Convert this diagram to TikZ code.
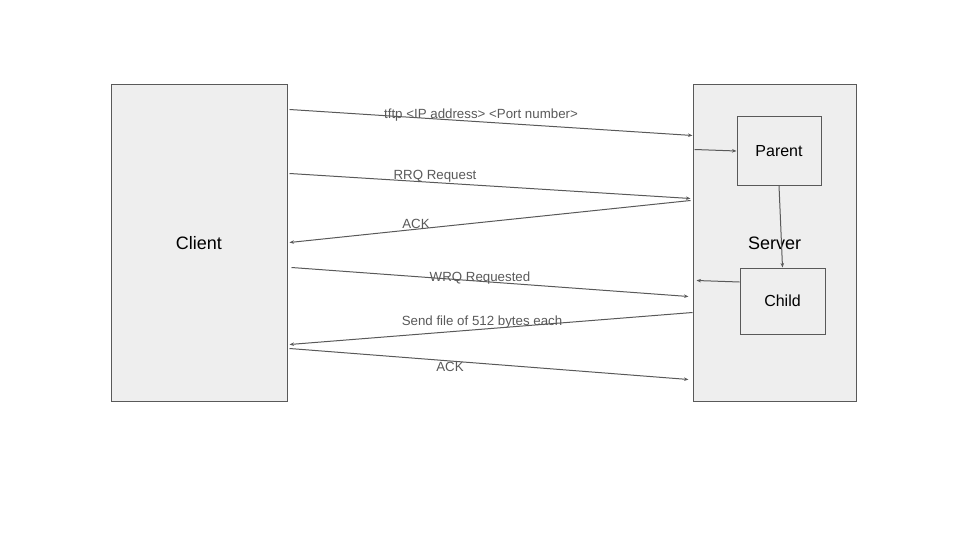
\documentclass[tikz,border=0pt]{standalone}
\usepackage{fontspec}
\setmainfont{Liberation Sans}
\usetikzlibrary{arrows.meta}
\definecolor{linegray}{HTML}{595959}
\definecolor{boxgray}{HTML}{EEEEEE}
\tikzset{
	box/.style={draw=linegray, fill=boxgray, line width=1pt, inner sep=0pt},
	msg/.style={draw=linegray, line width=1pt, -{Stealth[length=4.5pt,width=3.5pt]}},
	msglabel/.style={text=linegray, inner sep=0pt, font=\fontsize{13.3}{15}\selectfont}
}

\begin{document}
\begin{tikzpicture}[x=1pt, y=-1pt]
			%%%%% START %%%%%
			\useasboundingbox (0, 0) rectangle (960, 540);
			
			\node[box, minimum width=176pt, minimum height=316pt, font=\fontsize{18}{20}\selectfont] (client) at (199, 243) {Client};
			\node[box, minimum width=163pt, minimum height=316pt, font=\fontsize{18}{20}\selectfont] (server) at (774.5, 243) {Server};
			
			\node[box, minimum width=84pt, minimum height=68pt, font=\fontsize{16}{18}\selectfont] (parent) at (779, 151) {Parent};
			\node[box, minimum width=85pt, minimum height=66pt, font=\fontsize{16}{18}\selectfont] (child) at (782.5, 301) {Child};
			
			\draw[msg] ([xshift=2pt, yshift=-25pt]client.north east) -- ([yshift=-51pt]server.north west);
			\draw[msg] ([xshift=2pt, yshift=-65pt]server.north west) -- (parent.west);
			\draw[msg] ([xshift=2pt, yshift=-89pt]client.north east) -- ([xshift=-2pt, yshift=-114pt]server.north west);
			\draw[msg] ([xshift=-2pt, yshift=-116pt]server.north west) -- ([xshift=2pt, yshift=-158pt]client.north east);
			
			\draw[msg] (parent.south) -- (child.north);
			
			\draw[msg] ([xshift=4pt, yshift=-183pt]client.north east) -- ([xshift=-4pt, yshift=-212pt]server.north west);
			\draw[msg] ([yshift=19pt]child.west) -- ([xshift=4pt, yshift=-196pt]server.north west);
			\draw[msg] ([yshift=-228pt]server.north west) -- ([xshift=2pt, yshift=-260pt]client.north east);
			\draw[msg] ([xshift=2pt, yshift=-264pt]client.north east) -- ([xshift=-4pt, yshift=-295pt]server.north west);
			
			\node[msglabel] (tftp) at (481, 115) {tftp <IP address> <Port number>};
			\node[msglabel] (rrq) at (435, 176) {RRQ Request};
			\node[msglabel] (ackone) at (416, 224) {ACK};
			\node[msglabel] (wrq) at (480, 278) {WRQ Requested};
			\node[msglabel] (send) at (482, 322) {Send file of 512 bytes each};
			\node[msglabel] (acktwo) at (450, 367) {ACK};
			
			%%%%% END %%%%%
\end{tikzpicture}
\end{document}
